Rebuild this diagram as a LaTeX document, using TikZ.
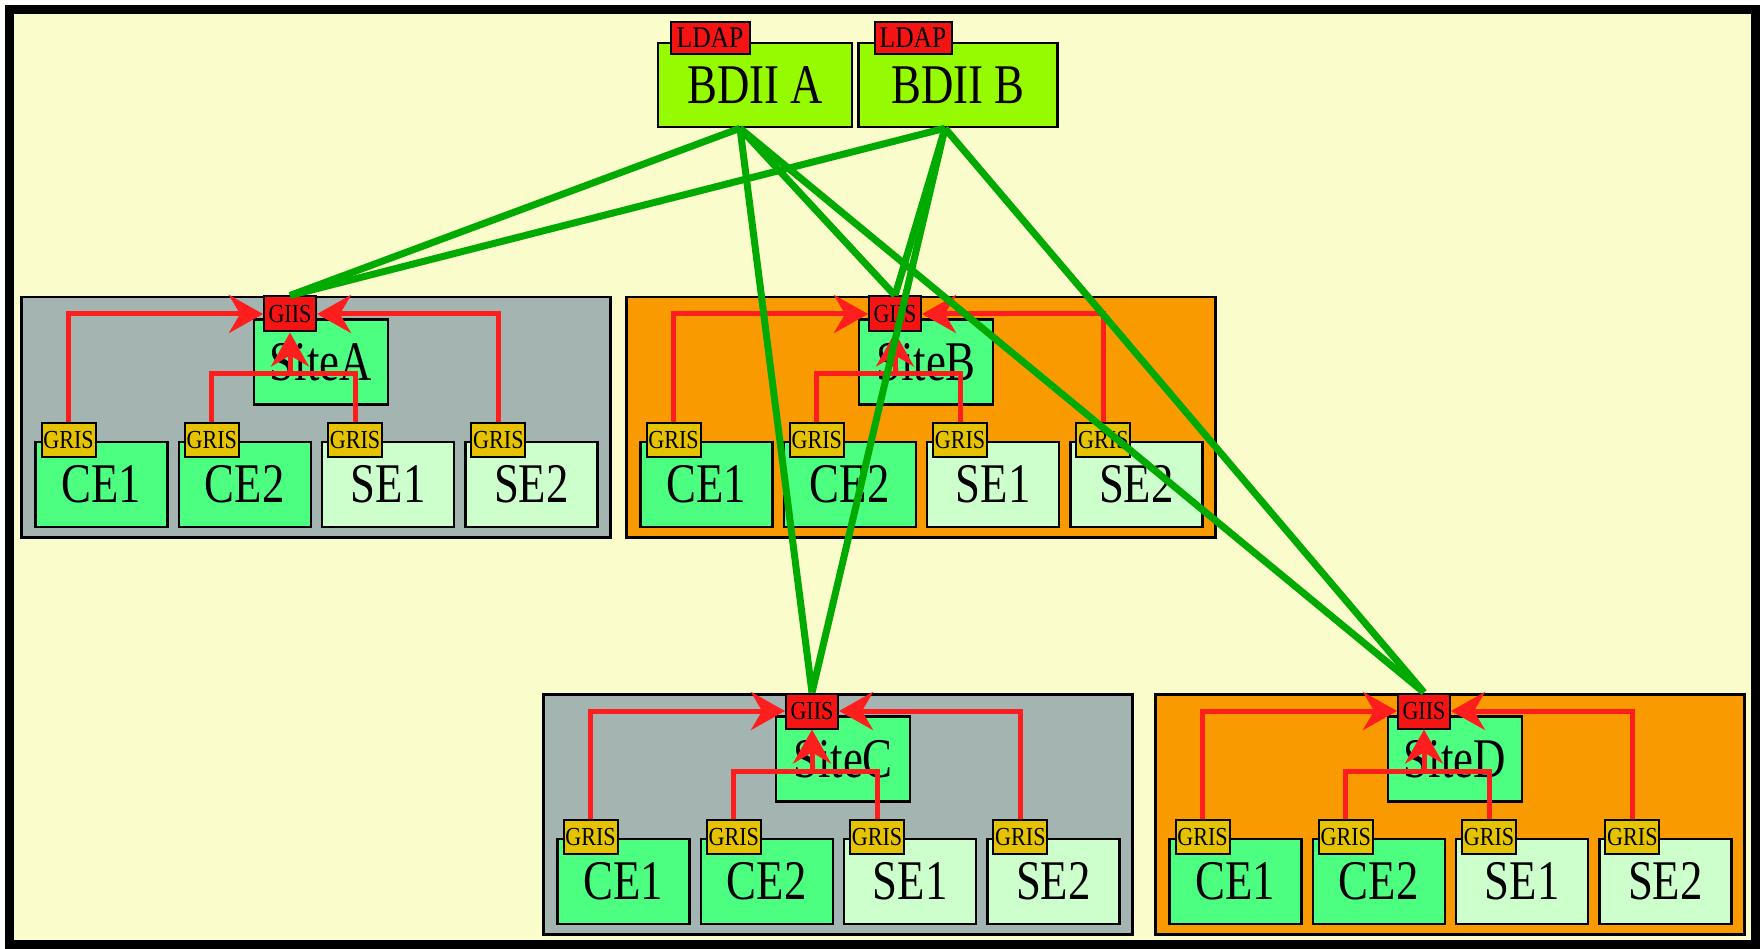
\documentclass[tikz,border=0pt]{standalone}
\usepackage{fontspec}
\setmainfont{Liberation Serif}
\newfontfamily\bigfont[FakeStretch=0.8]{Liberation Serif}
\newfontfamily\tagfont[FakeStretch=0.85]{Liberation Serif}
\usetikzlibrary{arrows.meta,positioning}
\definecolor{paper}{RGB}{250,252,204}
\definecolor{sitegray}{RGB}{163,180,177}
\definecolor{siteorange}{RGB}{248,154,0}
\definecolor{cegreen}{RGB}{77,255,128}
\definecolor{sepale}{RGB}{204,255,204}
\definecolor{bdiigreen}{RGB}{150,250,0}
\definecolor{tagred}{RGB}{245,20,20}
\definecolor{grisgold}{RGB}{230,195,0}
\definecolor{infored}{RGB}{255,30,30}
\definecolor{linkgreen}{RGB}{0,170,0}

\begin{document}
\begin{tikzpicture}[
    x=1pt, y=-1pt,
    bigtext/.style={font=\bigfont\fontsize{56}{56}\selectfont},
    tagtext/.style={font=\tagfont\fontsize{26}{26}\selectfont},
    box/.style={draw, line width=2.5pt, inner sep=0pt, minimum height=85pt, bigtext},
    tag/.style={draw, line width=2pt, inner sep=0pt, minimum width=54pt, minimum height=34pt, tagtext},
    info/.style={draw=infored, line width=5pt, -{Stealth[length=34pt,width=38pt]}},
    link/.style={draw=linkgreen, line width=7pt}
]
    % canvas and frame
    \useasboundingbox (0,0) rectangle (1764,949);
    \fill[white] (0,0) rectangle (1764,949);
    \draw[fill=paper, line width=9pt] (9,10) rectangle (1755,944);

    % top level index servers
    \node[box, fill=bdiigreen, minimum width=194pt, minimum height=84pt] (bdiiA) at (755,85) {BDII A};
    \node[box, fill=bdiigreen, minimum width=199pt, minimum height=84pt] (bdiiB) at (958,85) {BDII B};
    \node[tag, fill=tagred, minimum width=79pt, minimum height=32pt, font=\tagfont\fontsize{30}{30}\selectfont] (ldapA) at (710,38) {LDAP};
    \node[tag, fill=tagred, minimum width=77pt, minimum height=32pt, font=\tagfont\fontsize{30}{30}\selectfont] (ldapB) at (913,38) {LDAP};

    % one site: GIIS on top, GRIS on every machine
    \foreach \s/\px/\py/\col in {A/20/296/sitegray, B/625/296/siteorange, C/542/693/sitegray, D/1154/693/siteorange}{
        \begin{scope}[shift={(\px,\py)}]
            \node[draw, line width=2.5pt, fill=\col, minimum width=589pt, minimum height=240pt, anchor=north west] (\s) at (0,0) {};
            \node[box, fill=cegreen, minimum width=134pt] (\s-site) at (301,66) {Site\s};
            \node[tag, fill=tagred, minimum width=52pt, minimum height=35pt] (\s-giis) at (270,18) {GIIS};
            \foreach \m/\lbl/\fillc [count=\i from 0] in {ce1/CE1/cegreen, ce2/CE2/cegreen, se1/SE1/sepale, se2/SE2/sepale}{
                \node[box, fill=\fillc, minimum width=132pt] (\s-\m) at ({81.5+143.3*\i},188.5) {\lbl};
                \node[tag, fill=grisgold] (\s-\m-gris) at ({48.5+143.3*\i},144) {GRIS};
            }
            \draw[info] (\s-ce1-gris.north) |- (\s-giis.west);
            \draw[info] (\s-se2-gris.north) |- (\s-giis.east);
            \draw[draw=infored, line width=5pt] (\s-ce2-gris.north) |- (270,78) -| (\s-se1-gris.north);
            \draw[info] (270,78) -- (\s-giis.south);
        \end{scope}
    }

    % every BDII reads every GIIS
    \foreach \b/\dx in {bdiiA/-15, bdiiB/-13}{
        \foreach \s in {A,B,C,D}
            \draw[link] ([xshift=\dx pt]\b.south) -- (\s-giis.north);
    }
\end{tikzpicture}
\end{document}
